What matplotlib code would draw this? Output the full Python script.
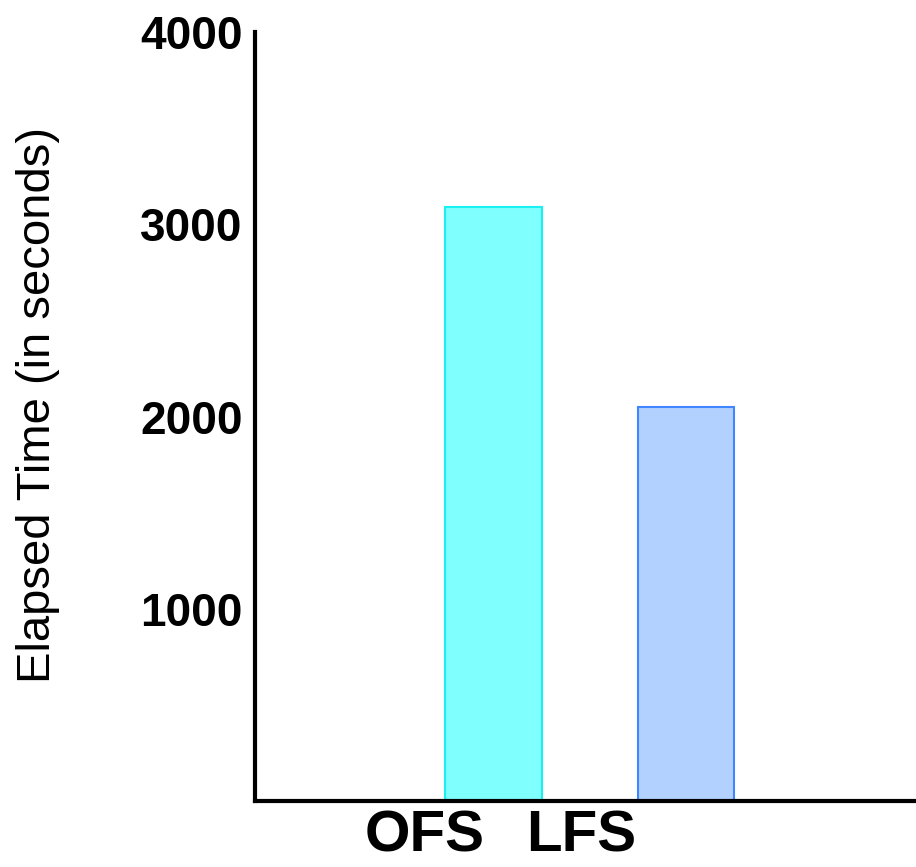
import matplotlib.pyplot as plt

categories = ['OFS', 'LFS']
elapsed = [3090, 2050]
yticks = [1000, 2000, 3000, 4000]

fill_colors = ['#80ffff', '#b3d1ff']
edge_colors = ['#1af0f0', '#3f86ff']

# tick labels sit left of the bars in the original
label_shift = [-0.36, -0.545]

fig = plt.figure(figsize=(9.16, 8.67), dpi=100)
ax = fig.add_axes([255 / 916, 1 - 801 / 867, 1 - 255 / 916, (801 - 32) / 867])

xs = list(range(len(categories)))
ax.bar(xs, elapsed, width=0.5, color=fill_colors, edgecolor=edge_colors, linewidth=1.5, zorder=2)

ax.set_xlim(-1.239, 2.195)
ax.set_ylim(0, 4000)

for side in ['top', 'right']:
    ax.spines[side].set_visible(False)
for side in ['left', 'bottom']:
    ax.spines[side].set_linewidth(3)
    ax.spines[side].set_zorder(3)

ax.set_yticks(yticks)
ax.set_yticklabels([str(v) for v in yticks], fontsize=33, fontweight='bold',
                   family=['Liberation Sans', 'DejaVu Sans'])
ax.set_xticks([x + s for x, s in zip(xs, label_shift)])
ax.set_xticklabels(categories, fontsize=42, fontweight='bold',
                   family=['Liberation Sans', 'DejaVu Sans'])
ax.tick_params(axis='y', length=0, pad=9)
ax.tick_params(axis='x', length=0, pad=6)

ax.set_ylabel('Elapsed Time (in seconds)', fontsize=34, family=['Liberation Sans', 'DejaVu Sans'])
ax.yaxis.set_label_coords(-0.295, 0.515)

fig.savefig('out.png', dpi=100)
